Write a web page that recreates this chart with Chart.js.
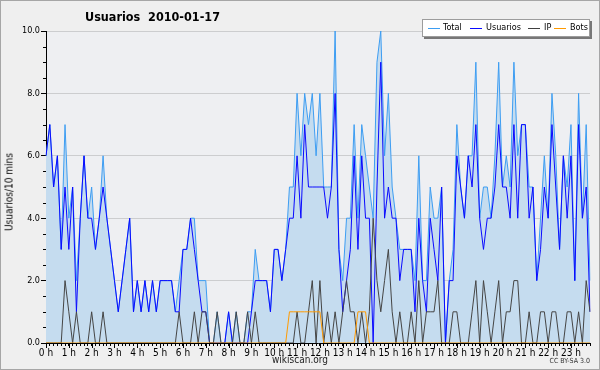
<!DOCTYPE html>
<html>
<head>
<meta charset="utf-8">
<script src="https://cdn.jsdelivr.net/npm/chart.js@4/dist/chart.umd.min.js"></script>
<style>
  body { margin: 0; background: #efefef; }
  #wrap { position: relative; width: 600px; height: 370px; background: #efefef;
          font-family: "DejaVu Sans Condensed", "DejaVu Sans", sans-serif; color: #000; }
  #frame { position: absolute; left: 0; top: 0; width: 598px; height: 368px;
           border: 1px solid #a6a6a6; pointer-events: none; }
  #title { position: absolute; left: 85px; top: 9px; font-size: 12.5px; font-weight: bold; white-space: pre; }
  #legend { position: absolute; left: 422px; top: 19px; width: 166px; height: 16px; background: #fff;
            border: 1px solid #9c9c9c; box-shadow: 2px 2px 0 #777; font-size: 9px; }
  #legend .ln { position: absolute; top: 8px; width: 12px; border-top: 1px solid; }
  #legend .tx { position: absolute; top: 2px; white-space: nowrap; }
  #ytitle { position: absolute; left: 9px; top: 192px; font-size: 10px; white-space: nowrap;
            transform: translate(-50%, -50%) rotate(-90deg); }
  #site { position: absolute; left: 0; width: 600px; top: 354px; text-align: center; font-size: 10px; color: #222; }
  #lic { position: absolute; right: 10px; top: 357px; font-size: 7px; color: #333; }
</style>
</head>
<body>
<div id="wrap">
  <canvas id="chart" width="600" height="370"></canvas>
  <div id="title">Usuarios  2010-01-17</div>
  <div id="legend">
    <span class="ln" style="left:5px;border-color:#3d9df2"></span><span class="tx" style="left:20px">Total</span>
    <span class="ln" style="left:47px;border-color:#0a0aff"></span><span class="tx" style="left:63px">Usuarios</span>
    <span class="ln" style="left:105px;border-color:#404040"></span><span class="tx" style="left:121px">IP</span>
    <span class="ln" style="left:131px;border-color:#ff9a00"></span><span class="tx" style="left:147px">Bots</span>
  </div>
  <div id="ytitle">Usuarios/10 mins</div>
  <div id="site">wikiscan.org</div>
  <div id="lic">CC BY-SA 3.0</div>
  <div id="frame"></div>
</div>
<script>
// one slot every 10 minutes, 00:00 .. 23:50
const slots = Array.from({ length: 144 }, (_, i) =>
  String(Math.floor(i / 6)).padStart(2, "0") + ":" + (i % 6) + "0");
const hourLabels = Array.from({ length: 24 }, (_, h) => h + " h");

const total = [
  6,7,5,6,3,7,4,5,2,4,6,4,5,3,4,6,4,3,2,1,2,3,4,1,
  2,1,2,1,2,1,2,2,2,2,1,2,3,3,4,4,2,2,2,0,0,1,0,0,
  1,0,1,0,0,1,1,3,2,2,2,1,3,3,2,3,5,5,8,6,8,7,8,6,
  8,5,5,5,10,3,2,4,4,7,4,7,6,5,4,9,10,6,8,5,4,3,3,3,
  3,2,6,2,2,5,4,4,5,0,2,3,7,5,4,6,6,9,4,5,5,4,6,9,
  5,6,5,9,6,7,7,5,5,2,4,6,4,8,6,3,6,5,7,2,8,4,7,2,
];
const usuarios = [
  6,7,5,6,3,5,3,5,1,4,6,4,4,3,4,5,4,3,2,1,2,3,4,1,
  2,1,2,1,2,1,2,2,2,2,1,1,3,3,4,3,2,1,1,0,0,0,0,0,
  1,0,0,0,0,0,1,2,2,2,2,1,3,3,2,3,4,4,6,4,7,5,5,5,
  5,5,4,5,8,3,1,2,3,6,3,6,4,4,0,5,9,4,5,4,4,2,3,3,
  3,1,4,2,1,4,3,2,5,0,2,2,6,5,4,6,5,7,4,3,4,4,5,7,
  5,5,4,7,4,7,7,4,5,2,3,5,4,7,5,3,6,4,6,2,7,4,5,1,
];
const ip = [
  0,0,0,0,0,2,1,0,1,0,0,0,1,0,0,1,0,0,0,0,0,0,0,0,
  0,0,0,0,0,0,0,0,0,0,0,1,0,0,0,1,0,1,1,0,0,1,0,0,
  0,0,1,0,0,1,0,1,0,0,0,0,0,0,0,0,0,0,1,0,0,1,2,0,
  2,0,1,0,1,0,1,2,1,1,0,1,0,1,4,2,1,2,3,1,0,1,0,0,
  1,0,2,0,1,1,1,2,0,0,0,1,1,0,0,0,1,2,0,2,1,0,1,2,
  0,1,1,2,2,0,0,1,0,0,1,1,0,1,1,0,0,1,1,0,1,0,2,1,
];
const bots = [
  0,0,0,0,0,0,0,0,0,0,0,0,0,0,0,0,0,0,0,0,0,0,0,0,
  0,0,0,0,0,0,0,0,0,0,0,0,0,0,0,0,0,0,0,0,0,0,0,0,
  0,0,0,0,0,0,0,0,0,0,0,0,0,0,0,0,1,1,1,1,1,1,1,1,
  1,0,0,0,0,0,0,0,0,0,1,1,1,0,0,0,0,0,0,0,0,0,0,0,
  0,0,0,0,0,0,0,0,0,0,0,0,0,0,0,0,0,0,0,0,0,0,0,0,
  0,0,0,0,0,0,0,0,0,0,0,0,0,0,0,0,0,0,0,0,0,0,0,0,
];
const yTicks = [0, 2, 4, 6, 8, 10];

const tickFont = { family: '"DejaVu Sans Condensed", "DejaVu Sans", sans-serif', size: 10 };

// plot background
const plotBg = {
  id: "plotBg",
  beforeDraw(chart) {
    const { ctx, chartArea: a } = chart;
    ctx.save();
    ctx.fillStyle = "#eeeff2";
    ctx.fillRect(a.left, a.top, a.right - a.left, a.bottom - a.top);
    ctx.restore();
  },
};

// small ticks: every 10 min on x (longer on the hour), every 0.5 on y
const minorTicks = {
  id: "minorTicks",
  afterDraw(chart) {
    const { ctx, chartArea: a, scales } = chart;
    ctx.save();
    ctx.strokeStyle = "#000";
    ctx.lineWidth = 1;
    ctx.beginPath();
    for (let i = 0; i < slots.length; i += 6) {
      const x = Math.round(scales.x.getPixelForTick(i)) + 0.5;
      ctx.moveTo(x, a.bottom);
      ctx.lineTo(x, a.bottom + 5);
    }
    for (let v = 0.5; v < 10; v += 0.5) {
      if (v % 2 === 0) continue;
      const y = Math.round(scales.y.getPixelForValue(v)) + 0.5;
      ctx.moveTo(a.left - 3, y);
      ctx.lineTo(a.left, y);
    }
    ctx.stroke();
    ctx.restore();
  },
};

new Chart(document.getElementById("chart"), {
  type: "line",
  data: {
    labels: slots,
    datasets: [
      { label: "Total", data: total, borderColor: "#3d9df2", backgroundColor: "#c5dcef", fill: "origin", order: 4 },
      { label: "Usuarios", data: usuarios, borderColor: "#0a0aff", fill: false, order: 3 },
      { label: "IP", data: ip, borderColor: "#454545", fill: false, order: 2 },
      { label: "Bots", data: bots, borderColor: "#ff9a00", fill: false, order: 1 },
    ],
  },
  options: {
    responsive: false,
    animation: false,
    layout: { padding: { top: 31, right: 10, left: 0, bottom: 0 } },
    elements: { point: { radius: 0 }, line: { borderWidth: 1, tension: 0 } },
    plugins: { legend: { display: false }, tooltip: { enabled: false } },
    scales: {
      x: {
        type: "category",
        offset: false,
        grid: { drawOnChartArea: false, tickLength: 3, color: "#000" },
        border: { color: "#000" },
        ticks: {
          autoSkip: false,
          maxRotation: 0,
          padding: 1,
          color: "#000",
          font: tickFont,
          callback: (v, i) => (i % 6 === 0 ? hourLabels[i / 6] : ""),
        },
        afterFit: (s) => { s.height = 27; },
      },
      y: {
        min: 0,
        max: 10,
        z: 1,
        afterBuildTicks: (s) => { s.ticks = yTicks.map((v) => ({ value: v })); },
        ticks: { padding: 1, color: "#000", font: { ...tickFont, size: 9 }, callback: (v) => v.toFixed(1) },
        grid: { color: "rgba(0,0,0,0.14)", tickColor: "#000", tickLength: 5 },
        border: { color: "#000" },
        afterFit: (s) => { s.width = 46; },
      },
    },
  },
  plugins: [plotBg, minorTicks],
});
</script>
</body>
</html>
